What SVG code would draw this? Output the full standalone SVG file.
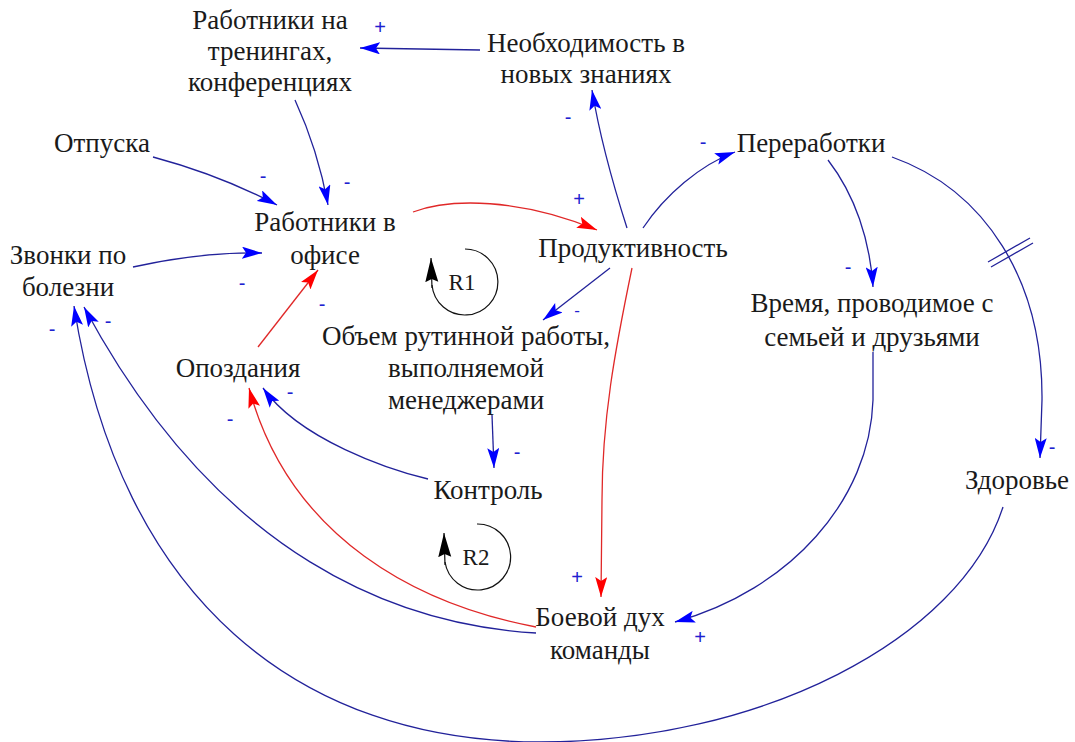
<svg xmlns="http://www.w3.org/2000/svg" width="1075" height="742" viewBox="0 0 1075 742">
<style>
.t{font-family:"Liberation Serif","Times New Roman",serif;font-size:27px;fill:#1a1a1a;text-anchor:middle}
.b{fill:none;stroke:#22229a;stroke-width:1.3}
.r{fill:none;stroke:#e02828;stroke-width:1.3}
.s{font-family:"Liberation Sans",Arial,sans-serif;font-size:20px;fill:#2020d0;text-anchor:middle;dominant-baseline:central}
.lp{fill:none;stroke:#111;stroke-width:1.2}
.lt{font-family:"Liberation Serif","Times New Roman",serif;font-size:23px;fill:#1a1a1a;text-anchor:middle;dominant-baseline:central}
</style>
<defs>
<marker id="ab" markerUnits="userSpaceOnUse" markerWidth="22" markerHeight="12" refX="20" refY="6" orient="auto"><path d="M0,0 L20,6 L0,12 L4,6 z" fill="#0000ff"/></marker>
<marker id="ar" markerUnits="userSpaceOnUse" markerWidth="22" markerHeight="12" refX="20" refY="6" orient="auto"><path d="M0,0 L20,6 L0,12 L4,6 z" fill="#ff0000"/></marker>
<marker id="ak" markerUnits="userSpaceOnUse" markerWidth="26" markerHeight="14" refX="24" refY="7" orient="auto"><path d="M0,0.5 L24,7 L0,13.5 L3,7 z" fill="#000"/></marker>
</defs>
<g id="connectors">
<path class="b" d="M480,50 L360,48" marker-end="url(#ab)"/>
<path class="b" d="M295,100 Q318,150 328,205" marker-end="url(#ab)"/>
<path class="b" d="M153,157 Q220,175 277,205" marker-end="url(#ab)"/>
<path class="b" d="M133,267 Q200,252 262,253" marker-end="url(#ab)"/>
<path class="r" d="M258,347 L318,270" marker-end="url(#ar)"/>
<path class="r" d="M413,212 C450,198 520,198 597,230" marker-end="url(#ar)"/>
<path class="b" d="M627,228 Q602,150 592,90" marker-end="url(#ab)"/>
<path class="b" d="M643,228 C665,195 700,165 735,152" marker-end="url(#ab)"/>
<path class="b" d="M828,160 C855,195 870,240 873,287" marker-end="url(#ab)"/>
<path class="b" d="M892,157 C985,190 1043,280 1042,400 Q1041,430 1040,458" marker-end="url(#ab)"/>
<path class="b" d="M988,262 L1030,238 M991,267 L1033,243"/>
<path class="b" d="M873,352 L873,400 C870,500 790,590 675,622" marker-end="url(#ab)"/>
<path class="b" d="M1003,507 C960,640 760,742 540,742 C300,742 120,600 74,306" marker-end="url(#ab)"/>
<path class="b" d="M536,633 C400,625 220,560 84,307" marker-end="url(#ab)"/>
<path class="r" d="M536,627 C420,605 290,540 249,388" marker-end="url(#ar)"/>
<path class="b" d="M428,479 C390,470 300,440 263,388" marker-end="url(#ab)"/>
<path class="b" d="M492,415 L494,468" marker-end="url(#ab)"/>
<path class="b" d="M610,268 L543,320" marker-end="url(#ab)"/>
<path class="r" d="M632,268 C615,350 602,420 602,500 L601,597" marker-end="url(#ar)"/>
</g>
<g id="signs">
<text class="s" x="380" y="27">+</text>
<text class="s" x="347" y="182">-</text>
<text class="s" x="263" y="176">-</text>
<text class="s" x="242" y="283">-</text>
<text class="s" x="322" y="304">-</text>
<text class="s" x="579" y="199">+</text>
<text class="s" x="568" y="117">-</text>
<text class="s" x="703" y="142">-</text>
<text class="s" x="848" y="267">-</text>
<text class="s" x="1052" y="447">-</text>
<text class="s" x="700" y="637">+</text>
<text class="s" x="52" y="329">-</text>
<text class="s" x="108" y="321">-</text>
<text class="s" x="230" y="419">-</text>
<text class="s" x="290" y="392">-</text>
<text class="s" x="517" y="452">-</text>
<text class="s" x="577" y="310" style="font-size:17px">-</text>
<text class="s" x="577" y="577">+</text>
</g>
<g id="loop-R1">
<path class="lp" d="M465,249 A33,33 0 1 1 432,285"/>
<path class="lp" d="M432,288 L431,258" marker-end="url(#ak)"/>
<text class="lt" x="462" y="282">R1</text>
</g>
<g id="loop-R2">
<path class="lp" d="M477,524 A33,33 0 1 1 445,562"/>
<path class="lp" d="M445,565 L444,533" marker-end="url(#ak)"/>
<text class="lt" x="476" y="557">R2</text>
</g>
<g id="n-training"><text class="t" x="270" y="29">Работники на</text><text class="t" x="270" y="60">тренингах,</text><text class="t" x="270" y="91">конференциях</text></g>
<g id="n-knowledge"><text class="t" x="586" y="52">Необходимость в</text><text class="t" x="586" y="83">новых знаниях</text></g>
<g id="n-vacation"><text class="t" x="102" y="152">Отпуска</text></g>
<g id="n-office"><text class="t" x="325" y="231">Работники в</text><text class="t" x="325" y="264">офисе</text></g>
<g id="n-sick"><text class="t" x="68" y="264">Звонки по</text><text class="t" x="68" y="296">болезни</text></g>
<g id="n-productivity"><text class="t" x="633" y="257">Продуктивность</text></g>
<g id="n-overtime"><text class="t" x="811" y="152">Переработки</text></g>
<g id="n-family"><text class="t" x="872" y="312">Время, проводимое с</text><text class="t" x="872" y="346">семьей и друзьями</text></g>
<g id="n-routine"><text class="t" x="466" y="345">Объем рутинной работы,</text><text class="t" x="466" y="377">выполняемой</text><text class="t" x="466" y="409">менеджерами</text></g>
<g id="n-late"><text class="t" x="238" y="377">Опоздания</text></g>
<g id="n-control"><text class="t" x="488" y="499">Контроль</text></g>
<g id="n-health"><text class="t" x="1017" y="489">Здоровье</text></g>
<g id="n-morale"><text class="t" x="600" y="626">Боевой дух</text><text class="t" x="600" y="659">команды</text></g>
</svg>
